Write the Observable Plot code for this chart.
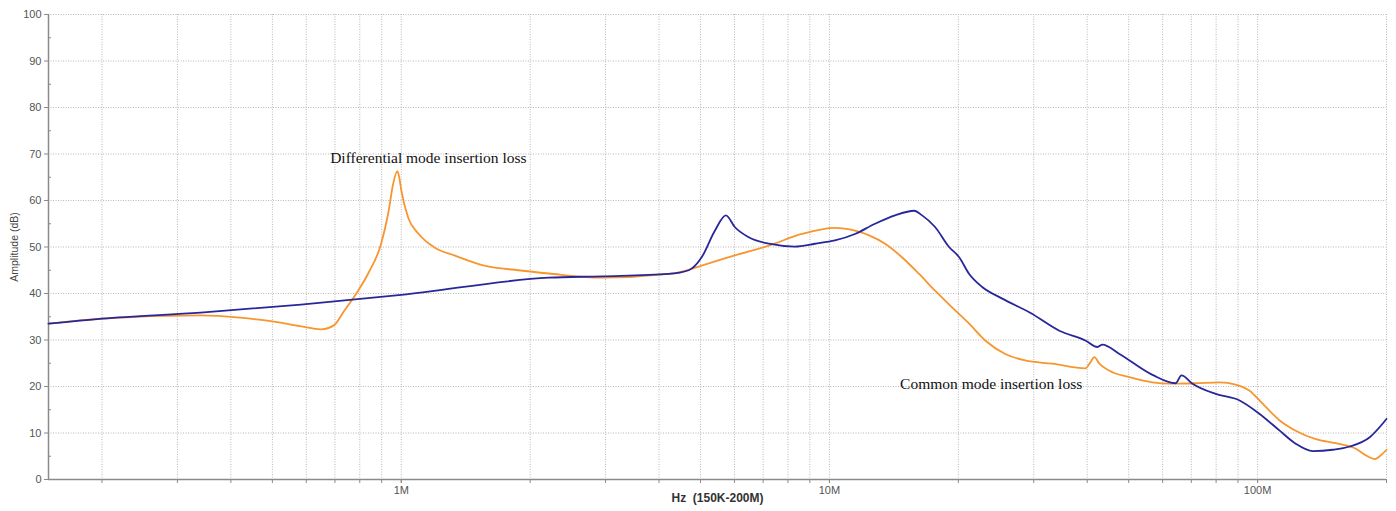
<!DOCTYPE html>
<html>
<head>
<meta charset="utf-8">
<script src="https://cdn.jsdelivr.net/npm/d3@7"></script>
<script src="https://cdn.jsdelivr.net/npm/@observablehq/plot@0.6"></script>
<style>
  html, body { margin: 0; padding: 0; background: #fff; }
  #chart svg { display: block; }
</style>
</head>
<body>
<div id="chart"></div>
<script>
// Frequencies in MHz
const diffFreq = [0.15, 0.2, 0.34, 0.42, 0.5, 0.58, 0.65, 0.697, 0.736, 0.793, 0.837, 0.898, 0.932, 0.958, 0.979, 0.989, 1.0, 1.038, 1.096, 1.195, 1.33, 1.563, 1.878, 2.21, 2.94, 4.21, 4.69, 5.03, 6.01, 7.22, 8.62, 10.3, 11.47, 12.37, 13.49, 14.77, 16.2, 17.65, 19.34, 21.2, 23.11, 25.74, 28.66, 33.15, 39.6, 40.68, 41.56, 42.7, 45.07, 50.19, 56.81, 62.27, 71.61, 81.53, 88.83, 95.79, 102.7, 112.6, 122.7, 136.7, 152.2, 169.6, 178.9, 187.8, 194.0, 200];
const diffDb   = [33.5, 34.6, 35.3, 34.8, 34.0, 33.0, 32.3, 33.2, 36.3, 40.6, 44.3, 50.8, 57.2, 63.7, 66.3, 65.0, 62.2, 56.3, 52.9, 49.9, 48.2, 46.0, 45.0, 44.3, 43.4, 44.2, 45.1, 46.0, 48.2, 50.3, 52.8, 54.1, 53.5, 52.5, 50.7, 47.8, 44.2, 40.6, 37.0, 33.5, 29.9, 27.0, 25.6, 24.9, 23.9, 25.2, 26.3, 24.9, 23.4, 22.0, 20.9, 20.6, 20.7, 20.9, 20.4, 19.1, 16.3, 12.7, 10.5, 8.7, 7.8, 6.6, 5.2, 4.4, 5.2, 6.4];

const commFreq = [0.15, 0.2, 0.34, 0.583, 1.0, 2.21, 2.94, 4.21, 4.69, 5.03, 5.40, 5.73, 6.01, 6.48, 7.22, 8.30, 9.25, 10.3, 11.47, 12.78, 14.23, 15.77, 16.46, 17.65, 19.03, 20.09, 21.2, 22.74, 25.33, 29.5, 34.42, 39.6, 42.24, 43.4, 47.56, 56.81, 64.31, 66.42, 70.47, 79.8, 90.77, 101.1, 112.6, 122.7, 134.5, 149.8, 164.2, 182.8, 200];
const commDb   = [33.5, 34.6, 35.9, 37.6, 39.7, 43.4, 43.7, 44.2, 45.0, 47.8, 53.5, 56.8, 54.3, 52.1, 50.7, 50.1, 50.7, 51.4, 52.8, 55.0, 56.8, 57.8, 56.8, 54.3, 50.0, 47.8, 44.2, 41.4, 38.9, 35.8, 32.0, 29.9, 28.5, 29.0, 27.0, 22.5, 20.7, 22.4, 20.6, 18.4, 17.0, 14.1, 10.5, 7.7, 6.1, 6.4, 7.1, 9.1, 13.0];

// Axis ticks
const xMajorTicks = [1, 10, 100];
const xGridTicks = [0.2, 0.3, 0.4, 0.5, 0.6, 0.7, 0.8, 0.9, 1, 2, 3, 4, 5, 6, 7, 8, 9, 10, 20, 30, 40, 50, 60, 70, 80, 90, 100, 200];
const yMajorTicks = [0, 10, 20, 30, 40, 50, 60, 70, 80, 90, 100];
const yMinorTicks = [5, 15, 25, 35, 45, 55, 65, 75, 85, 95];

// Annotations
const labelText = ["Differential mode insertion loss", "Common mode insertion loss"];
const labelFreq = [1.157, 23.86];
const labelDb = [69.2, 20.6];

const diff = diffFreq.map((f, i) => ({f, db: diffDb[i]}));
const comm = commFreq.map((f, i) => ({f, db: commDb[i]}));
const labels = labelText.map((t, i) => ({t, f: labelFreq[i], db: labelDb[i]}));

const axisColor = "#8a8a8a";
const gridColor = "#b8b8b8";
const noLabel = () => "";

const chart = Plot.plot({
  width: 1396,
  height: 511,
  marginLeft: 48,
  marginRight: 10,
  marginTop: 14,
  marginBottom: 32,
  style: {fontFamily: "'Liberation Sans', Arial, sans-serif", fontSize: "11px", color: "#555", background: "#fff"},
  x: {type: "log", domain: [0.15, 200]},
  y: {domain: [0, 100]},
  marks: [
    Plot.ruleX(xGridTicks, {stroke: gridColor, strokeDasharray: "1,1.5", strokeWidth: 1}),
    Plot.ruleY(yMajorTicks, {stroke: gridColor, strokeDasharray: "1,1.5", strokeWidth: 1}),
    Plot.axisX(xGridTicks, {tickSize: 4, tickFormat: noLabel, stroke: axisColor, label: null}),
    Plot.axisX(xMajorTicks, {tickSize: 4, tickPadding: 3, tickFormat: d => d + "M", stroke: axisColor, fill: "#555", label: null}),
    Plot.axisY(yMajorTicks, {tickSize: 4, tickPadding: 3, stroke: axisColor, fill: "#555", label: null}),
    Plot.axisY(yMinorTicks, {tickSize: 3, tickFormat: noLabel, stroke: axisColor, dx: 3, label: null}),
    Plot.ruleX([0.15], {stroke: axisColor, strokeWidth: 1.5}),
    Plot.ruleY([0], {stroke: axisColor, strokeWidth: 1.5}),
    Plot.line(diff, {x: "f", y: "db", stroke: "#f7962f", strokeWidth: 1.8, curve: "monotone-x"}),
    Plot.line(comm, {x: "f", y: "db", stroke: "#27279a", strokeWidth: 1.8, curve: "monotone-x"}),
    Plot.text(labels, {x: "f", y: "db", text: "t", fontFamily: "'Liberation Serif', 'Times New Roman', serif", fontSize: 15.5, fill: "#111"}),
    Plot.text(["Hz\u00a0\u00a0(150K-200M)"], {frameAnchor: "bottom", dy: 22, fontWeight: "bold", fontSize: 12, fill: "#333"}),
    Plot.text(["Amplitude (dB)"], {frameAnchor: "left", textAnchor: "middle", dx: -34, rotate: -90, fontSize: 10.5, fill: "#444"})
  ]
});
document.getElementById("chart").appendChild(chart);
</script>
</body>
</html>
